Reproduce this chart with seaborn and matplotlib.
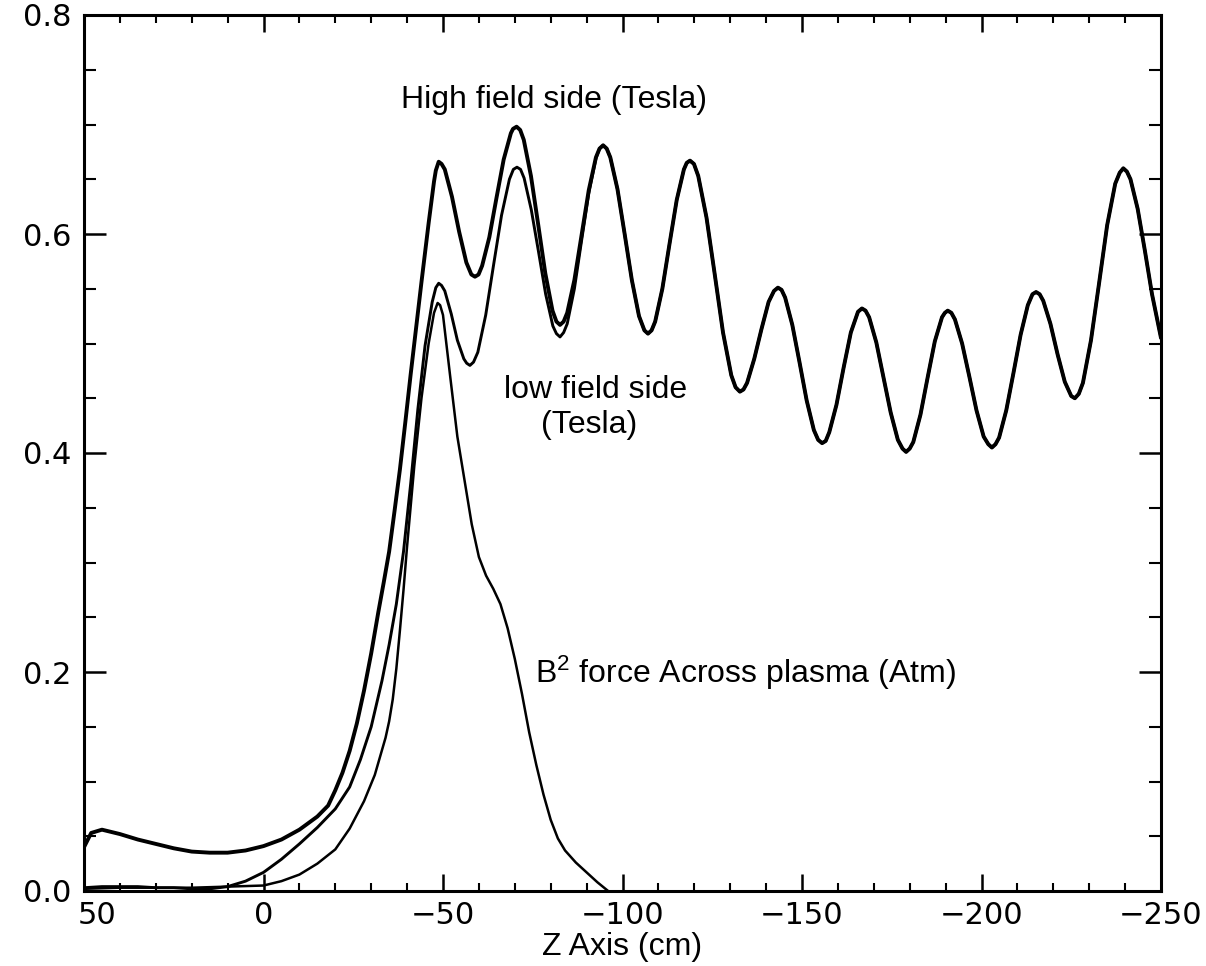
import matplotlib
matplotlib.use("Agg")
import matplotlib.pyplot as plt
from matplotlib.ticker import MultipleLocator
from matplotlib.transforms import ScaledTranslation
import pandas as pd
import seaborn as sns

# High field side (Tesla)
z_high = [50, 48, 45, 40, 35, 30, 25, 20, 15, 10, 5, 0, -5, -10, -15, -18, -20, -22,
          -24, -26, -28, -30, -32, -33.5, -35, -36.5, -38, -39.5, -41, -42.5, -44,
          -46, -47.5, -48, -48.8, -49.6,
          -50.5, -52.5, -54.5, -56.5, -57.9, -58.9, -59.9,
          -60.9, -62.9, -64.9, -66.9, -68.9, -69.5, -70.5, -71.5,
          -72.5, -74.5, -76.5, -78.5, -80.5, -81.6, -82.6, -83.6,
          -84.6, -86.6, -88.6, -90.6, -92.6, -93.6, -94.6, -95.6,
          -96.6, -98.6, -100.6, -102.6, -104.6, -106.1, -107.1, -108.1,
          -109.1, -111.1, -113.1, -115.1, -117.1, -117.9, -118.8, -119.9,
          -121.1, -123.4, -125.7, -128, -130.3, -131.5, -132.7, -133.7,
          -134.7, -136.7, -138.7, -140.7, -142.2, -143.3, -144.3,
          -145.3, -147.3, -149.3, -151.3, -153.3, -154.5, -155.6, -156.6,
          -157.6, -159.6, -161.6, -163.6, -165.6, -166.7, -167.7,
          -168.7, -170.7, -172.7, -174.7, -176.7, -178, -179, -180,
          -181, -183, -185, -187, -189, -189.8, -190.6, -191.6,
          -192.6, -194.6, -196.6, -198.6, -200.6, -201.9, -202.9, -203.9,
          -204.9, -206.9, -208.9, -210.9, -212.9, -214.2, -215.2, -216.2,
          -217.2, -219.2, -221.2, -223.2, -225, -226, -227.1,
          -228.25, -230.5, -232.75, -235, -237.25, -238.5, -239.5, -240.5,
          -241.5, -243.5, -245.5, -247.5, -250]
b_high = [0.040, 0.053, 0.056, 0.052, 0.047, 0.043, 0.039, 0.036, 0.035, 0.035, 0.037,
          0.041, 0.047, 0.056, 0.068, 0.078, 0.092, 0.108,
          0.128, 0.153, 0.183, 0.217, 0.255, 0.282, 0.310, 0.347, 0.385, 0.428, 0.472,
          0.514, 0.556,
          0.610, 0.648, 0.658, 0.666, 0.664,
          0.659, 0.634, 0.602, 0.574, 0.563, 0.561, 0.563,
          0.571, 0.597, 0.633, 0.668, 0.692, 0.696, 0.698, 0.695,
          0.686, 0.653, 0.609, 0.564, 0.530, 0.520, 0.517, 0.520,
          0.528, 0.558, 0.599, 0.640, 0.670, 0.678, 0.681, 0.678,
          0.670, 0.641, 0.600, 0.558, 0.525, 0.512, 0.509, 0.512,
          0.520, 0.550, 0.591, 0.631, 0.659, 0.665, 0.667, 0.664,
          0.653, 0.615, 0.563, 0.510, 0.471, 0.460, 0.456, 0.458,
          0.464, 0.486, 0.513, 0.538, 0.548, 0.551, 0.549,
          0.542, 0.517, 0.483, 0.448, 0.421, 0.412, 0.409, 0.411,
          0.419, 0.444, 0.478, 0.510, 0.529, 0.532, 0.530,
          0.524, 0.501, 0.469, 0.437, 0.412, 0.404, 0.401, 0.404,
          0.410, 0.435, 0.469, 0.502, 0.524, 0.528, 0.530, 0.528,
          0.522, 0.500, 0.470, 0.439, 0.415, 0.408, 0.405, 0.408,
          0.414, 0.439, 0.473, 0.508, 0.535, 0.545, 0.547, 0.545,
          0.539, 0.518, 0.490, 0.465, 0.452, 0.450, 0.454,
          0.464, 0.503, 0.555, 0.608, 0.646, 0.656, 0.660, 0.657,
          0.650, 0.623, 0.585, 0.545, 0.505]

# low field side (Tesla): own trace up to z = -93, then it lies on the high field curve
z_low_head = [50, 45, 40, 35, 30, 25, 20, 15, 10, 5, 0, -5, -10, -15, -20, -24, -27,
              -30, -33, -35, -37, -39, -41, -43, -45, -47, -48, -48.8, -49.6,
              -50.5, -52.3, -54, -55.8, -56.6, -57.5, -58.5,
              -59.7, -61.9, -64.1, -66.3, -68.5, -69.6, -70.6, -71.6,
              -72.6, -74.6, -76.6, -78.6, -80.6, -81.6, -82.6, -83.6,
              -84.6, -86.6, -88.6, -90.6, -92.6, -93.6]
b_low_head = [0.003, 0.004, 0.004, 0.004, 0.003, 0.003, 0.002, 0.002, 0.004, 0.009,
              0.017, 0.029, 0.043, 0.058, 0.075, 0.095, 0.120,
              0.150, 0.192, 0.225, 0.262, 0.310, 0.372, 0.440, 0.498, 0.538, 0.551,
              0.555, 0.553,
              0.548, 0.527, 0.503, 0.486, 0.482, 0.480, 0.483,
              0.492, 0.526, 0.572, 0.617, 0.650, 0.659, 0.661, 0.659,
              0.651, 0.622, 0.584, 0.545, 0.516, 0.509, 0.506, 0.510,
              0.518, 0.550, 0.594, 0.637, 0.669, 0.678]

# B^2 force across plasma (Atm)
z_force = [50, 40, 30, 20, 10, 0, -5, -10, -15, -20, -24, -28, -31, -34, -35, -36,
           -37, -38, -39, -40, -42, -44, -46, -47.5, -48.5, -49.2, -50, -52, -54, -56,
           -58, -60, -62, -64, -66, -68, -70, -72, -74, -76, -78, -80, -82, -84, -87,
           -90, -93, -96]
f_force = [0.002, 0.003, 0.003, 0.003, 0.004, 0.005, 0.009, 0.015, 0.025, 0.038,
           0.057, 0.082, 0.106, 0.140, 0.155, 0.175, 0.203, 0.238, 0.275, 0.315,
           0.388, 0.450, 0.500, 0.528, 0.537, 0.535, 0.526, 0.470, 0.415, 0.375,
           0.335, 0.305, 0.288, 0.276, 0.262, 0.240, 0.212, 0.180, 0.145, 0.115,
           0.088, 0.065, 0.048, 0.037, 0.026, 0.017, 0.008, 0.000]

x_ticks = [50, 0, -50, -100, -150, -200, -250]
y_ticks = [0.0, 0.2, 0.4, 0.6, 0.8]

# low field curve joins the high field one after the last dip
z_low = z_low_head + [z for z in z_high if z <= -94.6]
b_low = b_low_head + [b for z, b in zip(z_high, b_high) if z <= -94.6]

df_high = pd.DataFrame({"z": z_high, "b": b_high})
df_low = pd.DataFrame({"z": z_low, "b": b_low})
df_force = pd.DataFrame({"z": z_force, "b": f_force})

sns.set_theme(style="ticks")
plt.rcParams["font.family"] = ["Liberation Sans", "DejaVu Sans"]
plt.rcParams["mathtext.fontset"] = "custom"
plt.rcParams["mathtext.rm"] = "Liberation Sans"
plt.rcParams["mathtext.it"] = "Liberation Sans"
plt.rcParams["text.color"] = "black"
plt.rcParams["axes.labelcolor"] = "black"
plt.rcParams["xtick.color"] = "black"
plt.rcParams["ytick.color"] = "black"

fig = plt.figure(figsize=(12.06, 9.66), dpi=100)
ax = fig.add_axes([84 / 1206, 75 / 966, 1077 / 1206, 876 / 966])

line_kw = dict(color="black", solid_joinstyle="round", solid_capstyle="round")
sns.lineplot(data=df_force, x="z", y="b", ax=ax, linewidth=1.8, **line_kw)
sns.lineplot(data=df_low, x="z", y="b", ax=ax, linewidth=2.1, **line_kw)
sns.lineplot(data=df_high, x="z", y="b", ax=ax, linewidth=2.8, **line_kw)

ax.set_xlim(50, -250)
ax.set_ylim(0.0, 0.8)
ax.set_xticks(x_ticks)
ax.set_yticks(y_ticks)
ax.set_xticklabels([str(v).replace("-", "\u2212") for v in x_ticks])
ax.set_yticklabels([f"{v:.1f}" for v in y_ticks])
ax.xaxis.set_minor_locator(MultipleLocator(10))
ax.yaxis.set_minor_locator(MultipleLocator(0.05))

ax.tick_params(axis="both", which="both", direction="in", top=True, right=True,
               colors="black")
ax.tick_params(axis="x", which="major", length=12, width=1.8, pad=7, labelsize=22)
ax.tick_params(axis="x", which="minor", length=6, width=1.5)
ax.tick_params(axis="y", which="major", length=16, width=1.8, pad=9, labelsize=22)
ax.tick_params(axis="y", which="minor", length=8.5, width=1.5)
for lbl in ax.get_xticklabels() + ax.get_yticklabels():
    lbl.set_fontfamily("DejaVu Sans")
for s in ax.spines.values():
    s.set_linewidth(2.2)
    s.set_color("black")

# the "50" label sits a bit right of the axis corner
first = ax.get_xticklabels()[0]
first.set_transform(first.get_transform() + ScaledTranslation(0.13, 0, fig.dpi_scale_trans))

ax.set_xlabel("Z Axis (cm)", fontsize=23, labelpad=2)
ax.set_ylabel("")

ax.text(-80.9, 0.715, "High field side (Tesla)", fontsize=23, ha="center", va="baseline")
ax.text(-92.6, 0.450, "low field side", fontsize=23, ha="center", va="baseline")
ax.text(-90.7, 0.418, "(Tesla)", fontsize=23, ha="center", va="baseline")
ax.text(-75.5, 0.190, r"B$^{2}$ force Across plasma (Atm)", fontsize=23, ha="left",
        va="baseline")

fig.savefig("out.png", dpi=100)
